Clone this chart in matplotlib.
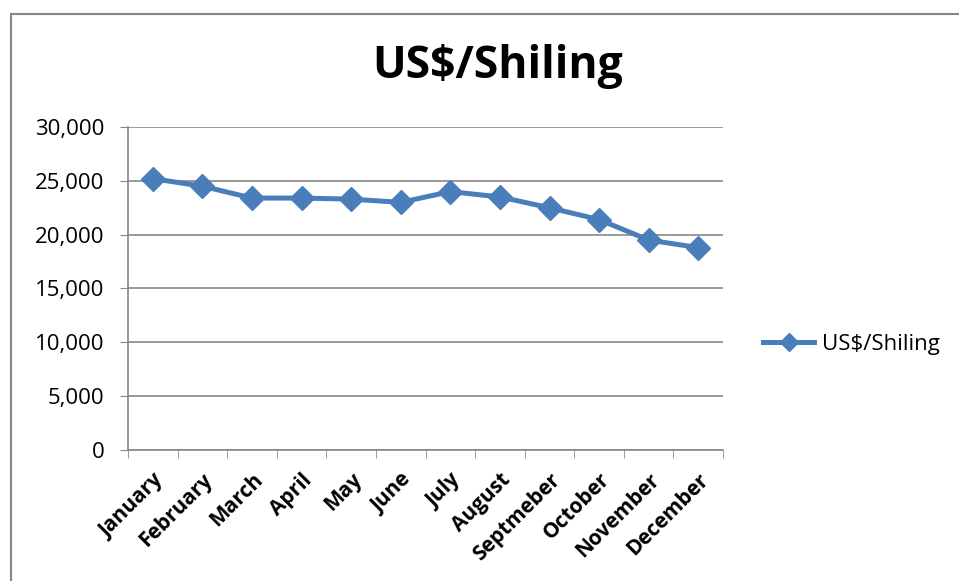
import matplotlib.pyplot as plt
from matplotlib.patches import Rectangle
from matplotlib.ticker import FuncFormatter

months = ['January', 'February', 'March', 'April', 'May', 'June', 'July',
          'August', 'Septmeber', 'October', 'November', 'December']
rates = [25200, 24500, 23400, 23400, 23300, 23000, 24000, 23500, 22500, 21400, 19500, 18800]
y_ticks = [0, 5000, 10000, 15000, 20000, 25000, 30000]

plt.rcParams['font.family'] = ['Open Sans', 'DejaVu Sans']

fig = plt.figure(figsize=(9.59, 5.81), dpi=100)
ax = fig.add_axes([0.1335, 0.2255, 0.6205, 0.5559])

blue = '#4A7EBB'
x = list(range(len(months)))
ax.plot(x, rates, color=blue, lw=3.6, marker='D', markersize=12, label='US$/Shiling')

ax.set_xlim(-0.5, len(months) - 0.5)
ax.set_ylim(0, 30000)
ax.set_yticks(y_ticks)
ax.yaxis.set_major_formatter(FuncFormatter(lambda v, p: f'{int(v):,}'))
ax.grid(axis='y', color='#878787', lw=1.2)
ax.set_axisbelow(True)

ax.set_xticks(x)
ax.set_xticklabels(months, rotation=45, ha='right', rotation_mode='anchor',
                   fontweight='bold', fontsize=15)
ax.tick_params(axis='x', length=0, pad=14)
ax.set_xticks([i - 0.5 for i in range(len(months) + 1)], minor=True)
ax.tick_params(axis='x', which='minor', length=6, color='#878787')
ax.tick_params(axis='y', length=6, color='#878787', labelsize=16, pad=11)

for side in ['top', 'right']:
    ax.spines[side].set_visible(False)
for side in ['left', 'bottom']:
    ax.spines[side].set_color('#878787')
    ax.spines[side].set_linewidth(1.2)

fig.text(0.519, 0.866, 'US$/Shiling', ha='center', va='baseline',
         fontsize=32, fontweight='bold')

fig.legend(loc='center left', bbox_to_anchor=(0.775, 0.407), frameon=False,
           fontsize=16, handlelength=2.3, handletextpad=0.36, markerscale=0.8)

fig.patches.append(Rectangle((0.0115, -0.05), 1.1, 1.026, transform=fig.transFigure,
                             fill=False, edgecolor='#878787', lw=1.5))

fig.savefig('out.png', dpi=100)
